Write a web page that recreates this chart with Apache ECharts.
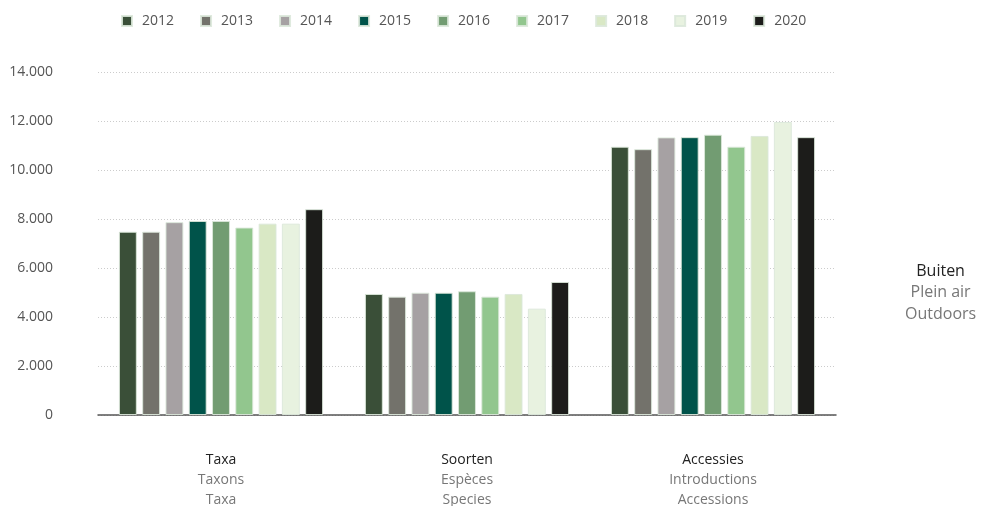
<!DOCTYPE html>
<html>
<head>
<meta charset="utf-8">
<script src="https://cdn.jsdelivr.net/npm/echarts@6/dist/echarts.min.js"></script>
<style>
html,body{margin:0;padding:0;background:#fff;}
#container{width:984px;height:506px;}
</style>
</head>
<body>
<div id="container"></div>
<script>
var categories = ['Taxa', 'Soorten', 'Accessies'];
var catFr = ['Taxons', 'Espèces', 'Introductions'];
var catEn = ['Taxa', 'Species', 'Accessions'];
var years = ['2012','2013','2014','2015','2016','2017','2018','2019','2020'];
var colors = ['#3a4f38','#73726b','#a6a1a3','#00534a','#729c72','#92c68e','#d9e8c5','#e8f2e0','#1c1c1a'];

var v2012 = [7480, 4940, 10950];
var v2013 = [7480, 4830, 10850];
var v2014 = [7870, 4990, 11330];
var v2015 = [7920, 4990, 11340];
var v2016 = [7920, 5050, 11440];
var v2017 = [7650, 4830, 10950];
var v2018 = [7810, 4940, 11390];
var v2019 = [7810, 4340, 11960];
var v2020 = [8400, 5430, 11340];
var yearVals = [v2012, v2013, v2014, v2015, v2016, v2017, v2018, v2019, v2020];

var yTicks = [0, 2000, 4000, 6000, 8000, 10000, 12000, 14000];

var font = "'Open Sans', 'Noto Sans', sans-serif";

function fmt(v){
	return String(v).replace(/\B(?=(\d{3})+(?!\d))/g, '.');
}

var myChart = echarts.init(document.getElementById('container'));

var series = [];
for(var i=0,k=years.length;i<k;i++){
	series.push({
		name: years[i],
		type: 'bar',
		barGap: '30%',
		barCategoryGap: '17%',
		itemStyle: {color: colors[i], borderColor: 'rgba(220,232,218,0.9)', borderWidth: 1},
		data: yearVals[i]
	});
}

var option = {
	animation: false,
	color: colors,
	textStyle: {fontFamily: font},
	legend: {
		top: 14,
		left: 121,
		padding: 0,
		icon: 'rect',
		itemWidth: 10,
		itemHeight: 10,
		itemGap: 26,
		textStyle: {color: '#555', fontSize: 14, fontFamily: font, padding: [0, 0, 0, 5]},
		data: years
	},
	grid: {left: 98, right: 148, top: 72, bottom: 91, outerBoundsMode: 'none', containLabel: false},
	xAxis: [{
		type: 'category',
		data: categories,
		axisLine: {lineStyle: {color: '#555', width: 1.5}},
		axisTick: {show: false},
		axisLabel: {
			margin: 35,
			lineHeight: 20,
			formatter: function(val, idx){
				return '{a|' + val + '}\n{b|' + catFr[idx] + '}\n{b|' + catEn[idx] + '}';
			},
			rich: {
				a: {color: '#222', fontSize: 14, lineHeight: 20, fontFamily: font},
				b: {color: '#777', fontSize: 14, lineHeight: 20, fontFamily: font}
			}
		}
	}],
	yAxis: [{
		type: 'value',
		min: yTicks[0],
		max: yTicks[yTicks.length-1],
		interval: 2000,
		axisLine: {show: false},
		axisTick: {show: false},
		axisLabel: {
			margin: 45,
			color: '#555',
			fontSize: 14,
			fontFamily: font,
			formatter: function(v){ return fmt(v); }
		},
		splitLine: {lineStyle: {color: '#ccc', type: [1, 2], width: 1}}
	}],
	graphic: [{
		type: 'text',
		left: 905,
		top: 263,
		style: {
			text: '{a|Buiten}\n{b|Plein air}\n{b|Outdoors}',
			align: 'center',
			x: 39,
			rich: {
				a: {fill: '#222', fontSize: 16, lineHeight: 21.5, fontFamily: font, align: 'center'},
				b: {fill: '#777', fontSize: 16, lineHeight: 21.5, fontFamily: font, align: 'center'}
			}
		}
	}],
	series: series
};
myChart.setOption(option);
</script>
</body>
</html>
